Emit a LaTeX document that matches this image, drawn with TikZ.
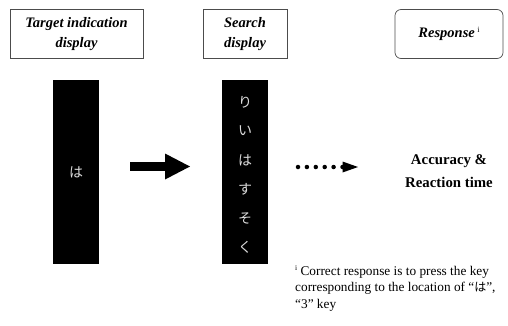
\documentclass[tikz,border=0pt]{standalone}
\usepackage{fontspec}
\setmainfont{Liberation Serif}
\newfontfamily\jpsans{Noto Sans CJK JP}
\usetikzlibrary{arrows.meta}
\definecolor{chargray}{RGB}{220,220,220}
\tikzset{
  x=1pt,y=-1pt,
  headbox/.style={draw=black!70,line width=0.7pt,minimum height=49pt,align=center,
    font=\fontsize{14.5}{20}\selectfont\bfseries\itshape,inner sep=0pt},
  bar/.style={fill=black,draw=none},
  barchar/.style={text=chargray,font=\jpsans\fontsize{14}{14}\selectfont,inner sep=0pt},
  dot/.style={circle,fill=black,minimum size=4.5pt,inner sep=0pt},
  note/.style={font=\fontsize{13.3}{16.5}\selectfont,align=left,inner sep=0pt,anchor=north west}
}
\begin{document}
\begin{tikzpicture}
\useasboundingbox (0,0) rectangle (508,325);
% header boxes
\node[headbox,minimum width=133pt] (h1) at (76.5,34) {Target indication\\display};
\node[headbox,minimum width=84pt] (h2) at (245,34) {Search\\display};
\node[headbox,minimum width=108pt,rounded corners=6pt] (h3) at (449,34) {Response\,\raisebox{5pt}{\normalfont\fontsize{8}{8}\selectfont i}};
% bars
\path[bar] (53,80) rectangle (99,264);
\node[barchar] (c0) at (76,172) {は};
\path[bar] (222,80) rectangle (268,264);
\node[barchar] (c1) at (245,102) {り};
\node[barchar] (c2) at (245,131) {い};
\node[barchar] (c3) at (245,160) {は};
\node[barchar] (c4) at (245,189) {す};
\node[barchar] (c5) at (245,218) {そ};
\node[barchar] (c6) at (245,247) {く};
% thick arrow
\coordinate (a1) at (130,166.5);
\coordinate (a2) at (190,166.5);
\draw[line width=9pt,-{Triangle[length=25pt,width=26pt,line width=0pt]}] (a1) -- (a2);
% dotted arrow
\foreach \i in {0,...,5}{\node[dot] (d\i) at (298+\i*8.9,167) {};}
\coordinate (t0) at (342.5,167);
\coordinate (t1) at (358,167);
\fill (t0) ++(0,-5.5) -- (t1) -- ++(-15.5,5.5) -- cycle;
% result
\node[font=\fontsize{14.8}{23}\selectfont\bfseries,align=center,inner sep=0pt] (res) at (449,171.5) {Accuracy \&\\Reaction time};
% footnote
\node[note] (fn) at (295,265) {\raisebox{5pt}{\fontsize{7.5}{7.5}\selectfont i} Correct response is to press the key\\corresponding to the location of “{\jpsans\fontsize{12}{12}\selectfont は}”,\\“3” key};
\end{tikzpicture}
\end{document}
